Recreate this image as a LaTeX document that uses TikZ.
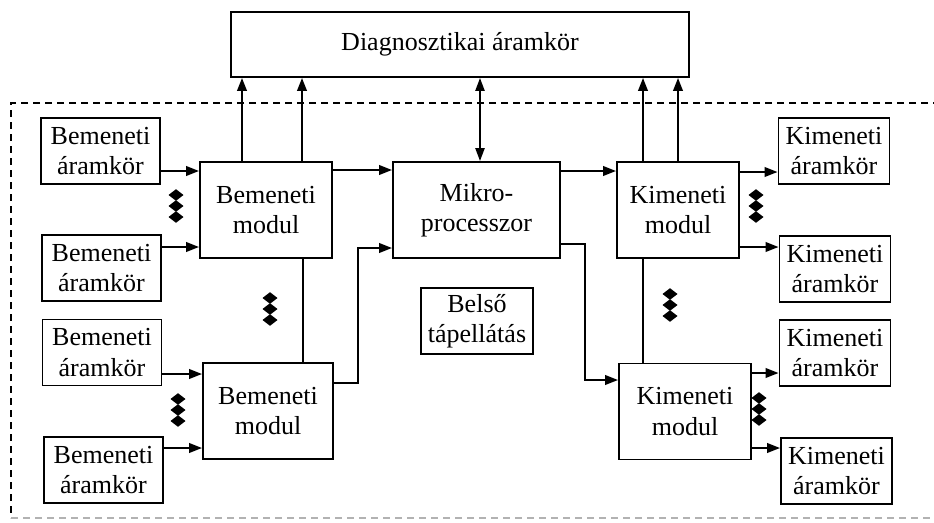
\documentclass[tikz,border=0pt]{standalone}
\usepackage{fontspec}
\setmainfont{Liberation Serif}
\usetikzlibrary{arrows.meta}
\begin{document}
\begin{tikzpicture}[x=1pt,y=-1pt,
  box/.style={draw,line width=1.8pt,align=center,inner sep=0pt,
    font=\fontsize{26}{30.5}\selectfont},
  smallbox/.style={box,minimum width=119pt,minimum height=66pt},
  modbox/.style={box,minimum height=96pt},
  wire/.style={line width=2.2pt},
  arr/.style={wire,-{Triangle[length=13pt,width=9.5pt]}},
  darr/.style={wire,{Triangle[length=13pt,width=9pt]}-{Triangle[length=13pt,width=9pt]}},
  frame/.style={line width=1.6pt,dash pattern=on 7pt off 5pt},
  vdots/.pic={
    \foreach \k in {-11,0,11}
      \fill (0,\k-5.8) -- (7.5,\k) -- (0,\k+5.8) -- (-7.5,\k) -- cycle;
  }]
\useasboundingbox (0,0) rectangle (934,522);
\begin{scope}
\clip (0,0) rectangle (934,522);
% dashed enclosure of the controller
\draw[frame] (940,103) -- (11,103) -- (11,518);
\draw[frame,gray!60] (11,518) -- (940,518);
\end{scope}

% blocks
\node[box,minimum width=458pt,minimum height=65pt] (diag) at (460,44.5) {Diagnosztikai áramkör};
\node[smallbox] (in1) at (100.5,151) {Bemeneti\\áramkör};
\node[smallbox] (in2) at (101.5,268) {Bemeneti\\áramkör};
\node[smallbox] (in3) at (102,352.5) {Bemeneti\\áramkör};
\node[smallbox] (in4) at (103.5,470) {Bemeneti\\áramkör};
\node[modbox,minimum width=132pt] (im1) at (266,210) {Bemeneti\\modul};
\node[modbox,minimum width=130pt] (im2) at (268,411) {Bemeneti\\modul};
\node[modbox,minimum width=167pt] (mp) at (476.5,210) {Mikro-\\processzor};
\node[modbox,minimum width=122pt] (om1) at (678,210) {Kimeneti\\modul};
\node[modbox,minimum width=132pt] (om2) at (685,411.5) {Kimeneti\\modul};
\node[box,minimum width=111pt,minimum height=66pt] (out1) at (834,151) {Kimeneti\\áramkör};
\node[box,minimum width=111pt,minimum height=66pt] (out2) at (835,269) {Kimeneti\\áramkör};
\node[box,minimum width=111pt,minimum height=66pt] (out3) at (835,353) {Kimeneti\\áramkör};
\node[box,minimum width=111pt,minimum height=66pt] (out4) at (836.5,471) {Kimeneti\\áramkör};
\node[box,minimum width=112pt,minimum height=66pt] (ps) at (477,321) {Belső\\tápellátás};

% input circuits to input modules
\draw[arr] ([yshift=-20pt]in1.east) -- ([yshift=-20pt]in1.east -| im1.west);
\draw[arr] ([yshift=21pt]in2.east) -- ([yshift=21pt]in2.east -| im1.west);
\draw[arr] ([yshift=-21.5pt]in3.east) -- ([yshift=-21.5pt]in3.east -| im2.west);
\draw[arr] ([yshift=22pt]in4.east) -- ([yshift=22pt]in4.east -| im2.west);

% input modules
\draw[arr] ([xshift=-24pt]im1.north) -- ([xshift=-24pt]im1.north |- diag.south);
\draw[arr] ([xshift=36pt]im1.north) -- ([xshift=36pt]im1.north |- diag.south);
\draw[wire] ([xshift=37pt]im1.south) -- ([xshift=37pt]im1.south |- im2.north);
\draw[arr] ([yshift=40pt]im1.east) -- ([yshift=40pt]im1.east -| mp.west);
\draw[arr] ([yshift=28pt]im2.east) -- ++(24,0) |- ([yshift=-38pt]mp.west);

% microprocessor
\draw[darr] ([xshift=3.5pt]mp.north) -- ([xshift=3.5pt]mp.north |- diag.south);
\draw[arr] ([yshift=39pt]mp.east) -- ([yshift=39pt]mp.east -| om1.west);
\draw[arr] ([yshift=-34pt]mp.east) -- ++(24,0) |- ([yshift=31.5pt]om2.west);

% output modules
\draw[arr] ([xshift=-35pt]om1.north) -- ([xshift=-35pt]om1.north |- diag.south);
\draw[arr] (om1.north) -- (om1.north |- diag.south);
\draw[wire] ([xshift=-35pt]om1.south) -- ([xshift=-35pt]om1.south |- om2.north);
\draw[arr] ([yshift=38pt]om1.east) -- ([yshift=38pt]om1.east -| out1.west);
\draw[arr] ([yshift=-37pt]om1.east) -- ([yshift=-37pt]om1.east -| out2.west);
\draw[arr] ([yshift=38.5pt]om2.east) -- ([yshift=38.5pt]om2.east -| out3.west);
\draw[arr] ([yshift=-36.5pt]om2.east) -- ([yshift=-36.5pt]om2.east -| out4.west);

% ellipsis marks for repeated units
\pic at (176,206) {vdots};
\pic at (270,309) {vdots};
\pic at (178,410) {vdots};
\pic at (670,305) {vdots};
\pic at (756,206) {vdots};
\pic at (759,409) {vdots};
\end{tikzpicture}
\end{document}
